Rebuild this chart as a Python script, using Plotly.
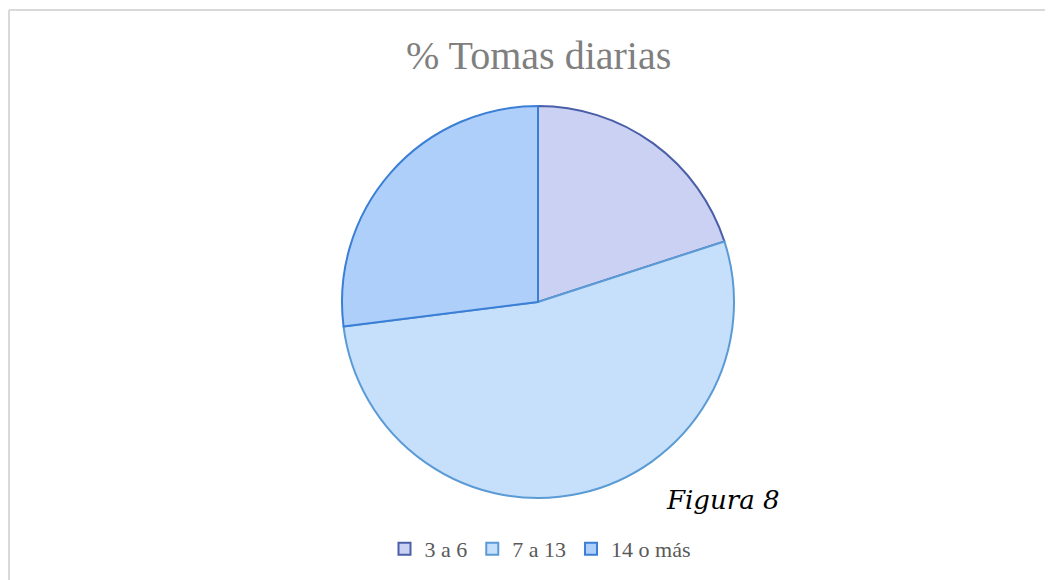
import plotly.graph_objects as go

categorias = ["3 a 6", "7 a 13", "14 o más"]
porcentajes = [20, 53, 27]
colores = ["#cad1f3", "#c6e0fc", "#afcffb"]
bordes = ["#4a5fa8", "#5b9bd5", "#3a7fd5"]

OFF = 8  # margen del body en la página html
W, H = 1053 - OFF, 580 - OFF


def px(x):
    return (x - OFF) / W


def py(y):
    return 1 - (y - OFF) / H


fig = go.Figure()
fig.add_trace(go.Pie(
    labels=categorias,
    values=porcentajes,
    sort=False,
    direction="clockwise",
    rotation=0,
    textinfo="none",
    hoverinfo="label+percent",
    marker=dict(colors=colores, line=dict(color=bordes, width=2)),
    domain=dict(x=[px(342), px(734)], y=[py(498), py(106)]),
))

fig.add_annotation(
    text="% Tomas diarias", x=px(538), y=py(55), xref="paper", yref="paper",
    xanchor="center", yanchor="middle",
    showarrow=False, font=dict(family="Liberation Serif", size=40, color="#7f7f7f"),
)
fig.add_annotation(
    text="<i>Figura 8</i>", x=px(722), y=py(500), xref="paper", yref="paper",
    xanchor="center", yanchor="middle",
    showarrow=False, font=dict(family="DejaVu Serif", size=26, color="#000000"),
)

# borde del área del gráfico (solo arriba e izquierda son visibles)
fig.add_shape(type="line", xref="paper", yref="paper",
              x0=px(9), x1=1.0, y0=py(10), y1=py(10),
              line=dict(color="#d9d9d9", width=2))
fig.add_shape(type="line", xref="paper", yref="paper",
              x0=px(9), x1=px(9), y0=0, y1=py(10),
              line=dict(color="#d9d9d9", width=2))

fig.update_layout(
    width=W, height=H,
    margin=dict(l=0, r=0, t=0, b=0),
    paper_bgcolor="white",
    showlegend=True,
    legend=dict(orientation="h", x=px(540), xanchor="center", y=py(549), yanchor="middle",
                font=dict(family="Liberation Serif", size=22, color="#595959"),
                itemwidth=30, traceorder="normal"),
)

fig.write_html("out.html")
